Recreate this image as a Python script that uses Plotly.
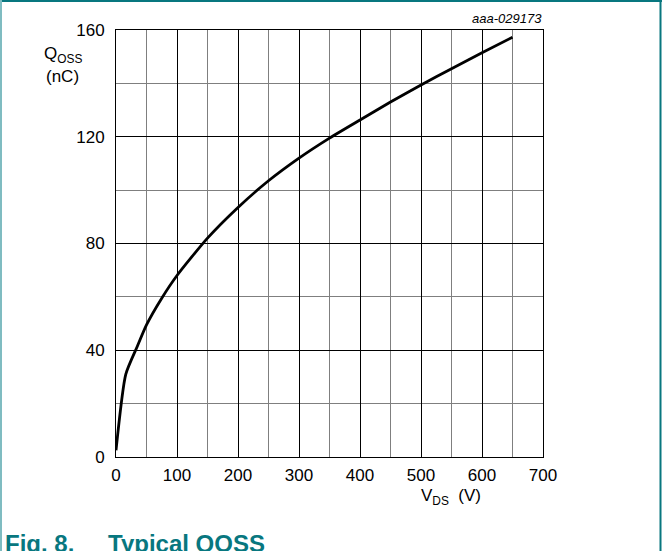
import plotly.graph_objects as go

vds = [0, 16, 35, 50, 75, 100, 150, 200, 250, 300, 350, 400, 450, 500, 550, 600, 650]
qoss = [2.5, 31, 41.5, 49.5, 59.5, 68, 82, 93.5, 103.5, 112, 119.5, 126.3, 133, 139.4, 145.5, 151.5, 157.3]

x_ticks = [0, 100, 200, 300, 400, 500, 600, 700]
y_ticks = [0, 40, 80, 120, 160]

W, H = 662, 551
L, R, T, B = 116, 119, 30, 94
PW, PH = W - L - R, H - T - B


def px(xp):
    return (xp - L) / PW


def py(yp):
    return (H - B - yp) / PH


FONT = "Liberation Sans, Arial, sans-serif"
TEAL = "#08777f"

fig = go.Figure()
fig.add_trace(go.Scatter(
    x=vds, y=qoss, mode="lines",
    line=dict(color="black", width=2.8, shape="spline", smoothing=0.6),
    showlegend=False, hoverinfo="skip",
))

fig.update_layout(
    width=W, height=H,
    margin=dict(l=L, r=R, t=T, b=B),
    paper_bgcolor="white", plot_bgcolor="white",
    font=dict(family=FONT, size=17, color="black"),
    xaxis=dict(
        range=[0, 700], tickvals=x_ticks, ticktext=[str(v) for v in x_ticks],
        showgrid=True, gridcolor="black", gridwidth=1,
        minor=dict(dtick=50, tick0=0, showgrid=True, gridcolor="#7f7f7f", gridwidth=1.3),
        showline=True, linecolor="black", linewidth=1, mirror=True,
        ticks="", ticklabelstandoff=3, zeroline=False, fixedrange=True,
    ),
    yaxis=dict(
        range=[0, 160], tickvals=y_ticks, ticktext=[str(v) for v in y_ticks],
        showgrid=True, gridcolor="black", gridwidth=1,
        minor=dict(dtick=20, tick0=0, showgrid=True, gridcolor="#7f7f7f", gridwidth=1.3),
        showline=True, linecolor="black", linewidth=1, mirror=True,
        ticks="", ticklabelstandoff=7, zeroline=False, fixedrange=True,
    ),
    annotations=[
        dict(xref="paper", yref="paper", x=px(63), y=py(55), xanchor="center", yanchor="middle",
             text="Q<sub>OSS</sub>", showarrow=False, font=dict(size=17)),
        dict(xref="paper", yref="paper", x=px(62), y=py(76), xanchor="center", yanchor="middle",
             text="(nC)", showarrow=False, font=dict(size=17)),
        dict(xref="paper", yref="paper", x=px(419), y=py(497), xanchor="left", yanchor="middle",
             text="V<sub>DS</sub>  (V)", showarrow=False, font=dict(size=17)),
        dict(xref="paper", yref="paper", x=px(544), y=py(19), xanchor="right", yanchor="middle",
             text="<i>aaa-029173</i>", showarrow=False, font=dict(size=13)),
        dict(xref="paper", yref="paper", x=px(3), y=py(543), xanchor="left", yanchor="middle",
             text="<b>Fig. 8.</b>", showarrow=False, font=dict(size=24, color=TEAL)),
        dict(xref="paper", yref="paper", x=px(106), y=py(543), xanchor="left", yanchor="middle",
             text="<b>Typical QOSS</b>", showarrow=False, font=dict(size=24, color=TEAL)),
    ],
    shapes=[
        dict(type="line", xref="paper", yref="paper", x0=px(0), x1=px(W), y0=py(1), y1=py(1),
             line=dict(color=TEAL, width=2)),
        dict(type="line", xref="paper", yref="paper", x0=px(660.5), x1=px(660.5), y0=py(0), y1=py(H),
             line=dict(color=TEAL, width=2)),
        dict(type="line", xref="paper", yref="paper", x0=px(1), x1=px(1), y0=py(0), y1=py(H),
             line=dict(color="#7fbcc1", width=2)),
    ],
)

fig.write_html("out.html")
